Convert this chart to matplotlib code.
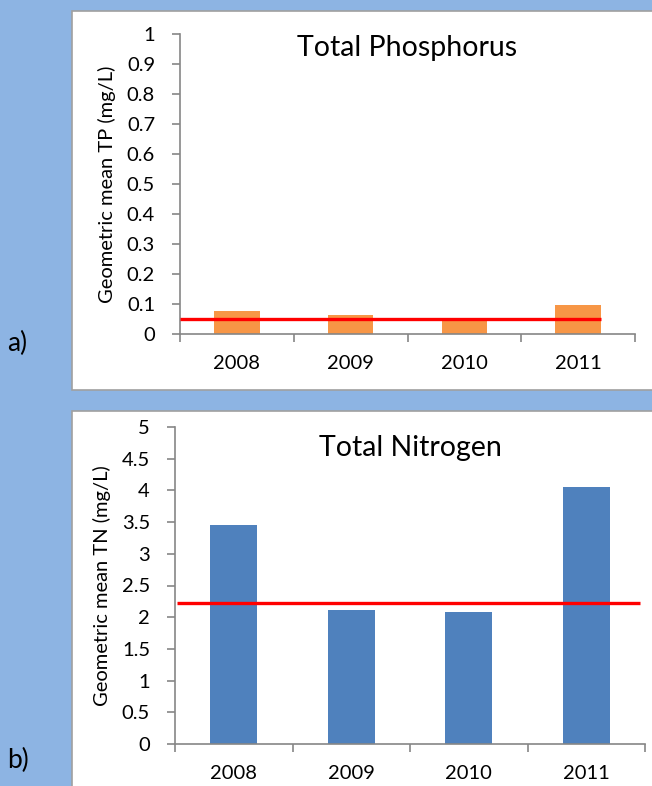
import matplotlib
matplotlib.use('Agg')
from matplotlib import pyplot as plt
from matplotlib.patches import Rectangle
import numpy as np

years = ['2008', '2009', '2010', '2011']
tp_values = [0.077, 0.064, 0.053, 0.097]
tn_values = [3.46, 2.11, 2.08, 4.05]
tp_target = 0.05
tn_target = 2.23

W, H = 652, 786
plt.rcParams['font.family'] = ['Lato', 'DejaVu Sans']

fig = plt.figure(figsize=(W / 100, H / 100), dpi=100)
fig.patch.set_facecolor('#8DB4E3')

# background axes holding the white panels
bg = fig.add_axes([0, 0, 1, 1], zorder=-10)
bg.set_xlim(0, W)
bg.set_ylim(H, 0)
bg.axis('off')


def px_rect(x0, y0, x1, y1):
    # pixel box (top-left origin) -> figure fraction [l, b, w, h]
    return [x0 / W, 1 - y1 / H, (x1 - x0) / W, (y1 - y0) / H]


def panel(x0, y0, x1, y1):
    bg.add_patch(Rectangle((x0, y0), x1 - x0, y1 - y0,
                           facecolor='white', edgecolor='#A0A0A0', lw=1.2))


def draw(ax, values, target, color, ymax, step, title, ylabel, line_span, title_y):
    ind = np.arange(len(values))
    ax.bar(ind, values, width=0.4, color=color, edgecolor='none', zorder=2)
    ax.plot(line_span, [target, target], color='#FF0000', lw=2.4, zorder=3, solid_capstyle='butt')
    ax.set_xlim(-0.5, len(values) - 0.5)
    ax.set_ylim(0, ymax)
    ax.set_yticks(np.arange(0, ymax + step / 2, step))
    ax.set_yticklabels(['%g' % v for v in np.arange(0, ymax + step / 2, step)])
    ax.set_xticks(ind)
    ax.set_xticklabels(years)
    ax.set_xticks(np.arange(-0.5, len(values), 1.0), minor=True)
    ax.tick_params(axis='x', which='major', length=0, pad=15, labelsize=14.5)
    ax.tick_params(axis='x', which='minor', length=6, width=1.2, color='#868686', direction='out')
    ax.tick_params(axis='y', length=6, width=1.2, color='#868686', pad=12, labelsize=14.5)
    for s in ['top', 'right']:
        ax.spines[s].set_visible(False)
    for s in ['left', 'bottom']:
        ax.spines[s].set_color('#868686')
        ax.spines[s].set_linewidth(1.2)
    ax.set_facecolor('none')
    ax.set_ylabel(ylabel, fontsize=14.5, labelpad=8)
    ax.text(0.5, title_y, title, transform=ax.transAxes, ha='center', va='center', fontsize=20.5)


panel(72, 11, 660, 390)
panel(72, 411, 660, 800)

ax1 = fig.add_axes(px_rect(180, 34, 635, 334))
draw(ax1, tp_values, tp_target, '#F79646', 1.0, 0.1, 'Total Phosphorus',
     'Geometric mean TP (mg/L)', [-0.5, 3.2], 0.955)

ax2 = fig.add_axes(px_rect(175, 427, 645, 744))
draw(ax2, tn_values, tn_target, '#4F81BD', 5.0, 0.5, 'Total Nitrogen',
     'Geometric mean TN (mg/L)', [-0.48, 3.46], 0.935)

fig.text(7 / W, 1 - 343 / H, 'a)', fontsize=19, va='center', ha='left')
fig.text(7 / W, 1 - 760 / H, 'b)', fontsize=19, va='center', ha='left')

fig.savefig('out.png', dpi=100, facecolor=fig.get_facecolor())
